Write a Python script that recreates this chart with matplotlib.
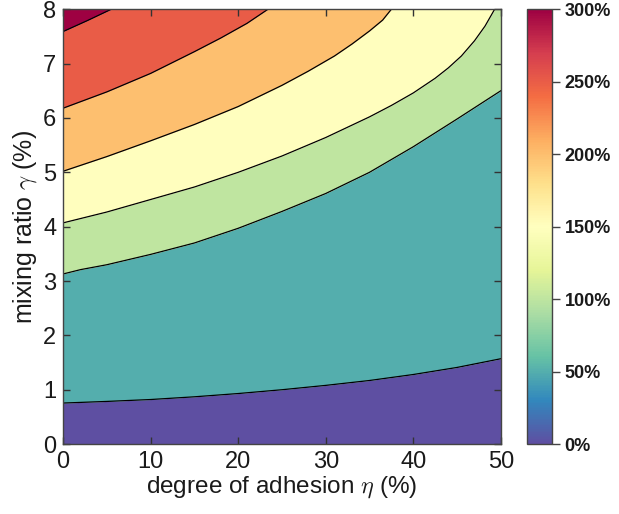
import numpy as np
import matplotlib
matplotlib.use("Agg")
import matplotlib.pyplot as plt
from matplotlib.cm import ScalarMappable
from matplotlib.colors import Normalize

plt.rcParams['font.family'] = ['Liberation Sans', 'DejaVu Sans']
plt.rcParams['mathtext.fontset'] = 'cm'

# contour levels (%) and where each line crosses, as (eta, gamma) points
levels = [0, 50, 100, 150, 200, 250, 300]

eta_50 = [0, 5, 10, 15, 20, 25, 30, 35, 40, 45, 50]
gam_50 = [0.755, 0.785, 0.82, 0.87, 0.93, 1.0, 1.08, 1.17, 1.28, 1.41, 1.57]

eta_100 = [0, 2, 5, 10, 15, 20, 25, 30, 35, 40, 45, 50]
gam_100 = [3.13, 3.21, 3.30, 3.49, 3.70, 3.97, 4.28, 4.61, 5.0, 5.47, 5.98, 6.5]

eta_150 = [0, 5, 10, 15, 20, 25, 30, 35, 37.5, 40, 42.5, 44, 45.5, 47, 48.2, 49.3]
gam_150 = [4.07, 4.27, 4.50, 4.73, 5.0, 5.3, 5.64, 6.02, 6.23, 6.46, 6.73,
           6.92, 7.14, 7.42, 7.69, 8.0]

eta_200 = [0, 5, 10, 15, 20, 25, 28, 31, 33, 35, 36.5, 37.5]
gam_200 = [5.02, 5.29, 5.58, 5.88, 6.21, 6.6, 6.86, 7.14, 7.36, 7.6, 7.8, 8.0]

eta_250 = [0, 5, 10, 15, 18, 21, 23.4]
gam_250 = [6.18, 6.48, 6.82, 7.22, 7.47, 7.74, 8.0]

eta_300 = [0, 2.75, 5.5]
gam_300 = [7.59, 7.79, 8.0]

lines = [(eta_50, gam_50), (eta_100, gam_100), (eta_150, gam_150),
         (eta_200, gam_200), (eta_250, gam_250), (eta_300, gam_300)]

x_max, y_max = 50, 8
cmap = plt.get_cmap('Spectral_r')
norm = Normalize(0, 300)

fig = plt.figure(figsize=(6.19, 5.14), dpi=100)
ax = fig.add_axes([0.102, 0.136, 0.707, 0.846])

eta = np.linspace(0, x_max, 501)
# boundaries clamp to the top edge once a line has left the plot
bounds = [np.zeros_like(eta)]
for ex, gy in lines:
    bounds.append(np.interp(eta, ex, gy))
bounds.append(np.full_like(eta, y_max))

for i, lev in enumerate(levels):
    ax.fill_between(eta, bounds[i], bounds[i + 1], color=cmap(norm(lev)),
                    linewidth=0)

for ex, gy in lines:
    ax.plot(ex, gy, color='black', linewidth=0.9)

ax.set_xlim(0, x_max)
ax.set_ylim(0, y_max)
ax.set_xticks([0, 10, 20, 30, 40, 50])
ax.set_yticks(range(0, 9))
ax.tick_params(direction='in', length=5, width=1, top=True, right=True,
               labelsize=17, colors='#333333', labelcolor='#1a1a1a', pad=5)
for s in ax.spines.values():
    s.set_color('#444444')
    s.set_linewidth(1.0)
ax.set_xlabel(r'degree of adhesion $\eta$ (%)', fontsize=17.5,
              color='#1a1a1a', labelpad=1)
ax.set_ylabel(r'mixing ratio $\gamma$ (%)', fontsize=18, color='#1a1a1a',
              labelpad=3)

cax = fig.add_axes([0.851, 0.136, 0.041, 0.846])
sm = ScalarMappable(norm=norm, cmap=cmap)
cb = fig.colorbar(sm, cax=cax, ticks=levels)
cb.ax.set_yticklabels([f'{v}%' for v in levels], fontweight='bold',
                      fontsize=13, color='#1a1a1a')
cb.ax.tick_params(direction='out', length=6, width=1, colors='#444444',
                  labelcolor='#1a1a1a', pad=3)
cb.outline.set_edgecolor('#444444')
cb.outline.set_linewidth(1.0)

fig.savefig('out.png', dpi=100)
